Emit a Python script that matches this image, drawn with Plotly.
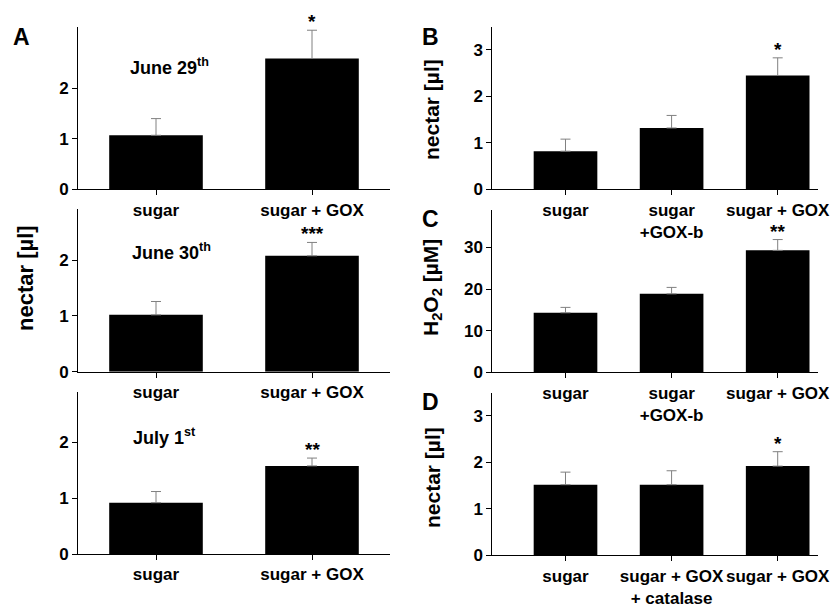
import plotly.graph_objects as go

# The page body adds an 8px margin around the figure; compensate for it.
OFF = 8
W, H = 839 - OFF, 607 - OFF

# ---------------- data ----------------
cats_A = ["sugar", "sugar + GOX"]
a1_vals = [1.07, 2.59]
a1_err = [1.40, 3.15]
a2_vals = [1.02, 2.08]
a2_err = [1.26, 2.32]
a3_vals = [0.92, 1.58]
a3_err = [1.12, 1.72]

cats_B = ["sugar", "sugar<br>+GOX-b", "sugar + GOX"]
b_vals = [0.82, 1.32, 2.45]
b_err = [1.08, 1.59, 2.83]

cats_C = ["sugar", "sugar<br>+GOX-b", "sugar + GOX"]
c_vals = [14.3, 18.85, 29.3]
c_err = [15.6, 20.4, 31.9]

cats_D = ["sugar", "sugar + GOX<br>+ catalase", "sugar + GOX"]
d_vals = [1.52, 1.52, 1.92]
d_err = [1.79, 1.82, 2.23]

stars_A1 = ["", "*"]
stars_A2 = ["", "***"]
stars_A3 = ["", "**"]
stars_B = ["", "", "*"]
stars_C = ["", "", "**"]
stars_D = ["", "", "*"]

FONT = "Liberation Sans, Arial, sans-serif"

panels = [
    # name, cats, vals, errtop, stars, yrange, yticks, xpix, ypix, xrange
    ("A1", cats_A, a1_vals, a1_err, stars_A1, [0, 3.22], [0, 1, 2], (78, 390), (26.7, 189.3), [-0.5, 1.5]),
    ("A2", cats_A, a2_vals, a2_err, stars_A2, [0, 2.92], [0, 1, 2], (78, 390), (209, 371.7), [-0.5, 1.5]),
    ("A3", cats_A, a3_vals, a3_err, stars_A3, [0, 2.91], [0, 1, 2], (78, 390), (391.7, 554), [-0.5, 1.5]),
    ("B", cats_B, b_vals, b_err, stars_B, [0, 3.5], [0, 1, 2, 3], (492.3, 818), (26.7, 189.3), [-0.69, 2.38]),
    ("C", cats_C, c_vals, c_err, stars_C, [0, 39], [0, 10, 20, 30], (492.3, 818), (210, 372.3), [-0.69, 2.38]),
    ("D", cats_D, d_vals, d_err, stars_D, [0, 3.5], [0, 1, 2, 3], (492.3, 818), (392.7, 555.3), [-0.69, 2.38]),
]

def fx(px):
    return (px - OFF) / W

def fy(py):
    return 1 - (py - OFF) / H

fig = go.Figure()
layout = dict(
    width=W, height=H,
    margin=dict(l=0, r=0, t=0, b=0),
    paper_bgcolor="white", plot_bgcolor="white",
    showlegend=False,
    font=dict(family=FONT, color="black", size=17),
)
annotations = []

for i, (name, cats, vals, errtop, stars, yr, yt, xp, yp, xr) in enumerate(panels):
    n = i + 1
    xs = list(range(len(cats)))
    plus = [e - v for e, v in zip(errtop, vals)]
    xa = "x" if n == 1 else f"x{n}"
    ya = "y" if n == 1 else f"y{n}"
    fig.add_trace(go.Bar(
        x=xs, y=vals, width=0.6,
        marker=dict(color="black", line=dict(width=0)),
        error_y=dict(type="data", array=plus, arrayminus=[0] * len(vals), symmetric=False,
                     color="#808080", thickness=1, width=5),
        xaxis=xa, yaxis=ya,
    ))
    xkey = "xaxis" if n == 1 else f"xaxis{n}"
    ykey = "yaxis" if n == 1 else f"yaxis{n}"
    layout[xkey] = dict(
        domain=[fx(xp[0]), fx(xp[1])], anchor=ya, range=xr, automargin=False,
        tickmode="array", tickvals=xs, ticktext=[f"<b>{c}</b>" for c in cats], tickangle=0,
        showline=True, linecolor="black", linewidth=1, ticks="outside", ticklen=5,
        tickcolor="black", showgrid=False, zeroline=False,
        tickfont=dict(family=FONT, size=17, color="black"),
    )
    layout[ykey] = dict(
        domain=[fy(yp[1]), fy(yp[0])], anchor=xa, range=yr, automargin=False,
        tickmode="array", tickvals=yt, ticktext=[f"<b>{t}</b>" for t in yt],
        showline=True, linecolor="black", linewidth=1, ticks="outside", ticklen=5,
        tickcolor="black", showgrid=False, zeroline=False,
        tickfont=dict(family=FONT, size=17, color="black"),
    )
    for x, e, s in zip(xs, errtop, stars):
        if s:
            annotations.append(dict(
                x=x, y=e, xref=xa, yref=ya, text=f"<b>{s}</b>", showarrow=False,
                yanchor="bottom", yshift=-4, font=dict(family=FONT, size=19, color="black"),
            ))

def pann(text, px, py, size, angle=0):
    annotations.append(dict(
        x=fx(px), y=fy(py), xref="paper", yref="paper", text=text, showarrow=False,
        xanchor="center", yanchor="middle", textangle=angle,
        font=dict(family=FONT, size=size, color="black"),
    ))

# panel letters
pann("<b>A</b>", 22, 37, 23)
pann("<b>B</b>", 430, 37, 23)
pann("<b>C</b>", 430, 219, 23)
pann("<b>D</b>", 430, 402, 23)

# dates
pann("<b>June 29<sup>th</sup></b>", 169, 66, 18)
pann("<b>June 30<sup>th</sup></b>", 171, 252, 18)
pann("<b>July 1<sup>st</sup></b>", 164, 436, 18)

# y titles
pann("<b>nectar [µl]</b>", 25, 278, 22, -90)
pann("<b>nectar [µl]</b>", 432, 110, 21, -90)
pann("<b>H<sub>2</sub>O<sub>2</sub> [µM]</b>", 432, 288, 21, -90)
pann("<b>nectar [µl]</b>", 432, 478, 21, -90)

layout["annotations"] = annotations
fig.update_layout(**layout)
fig.write_html("out.html")
